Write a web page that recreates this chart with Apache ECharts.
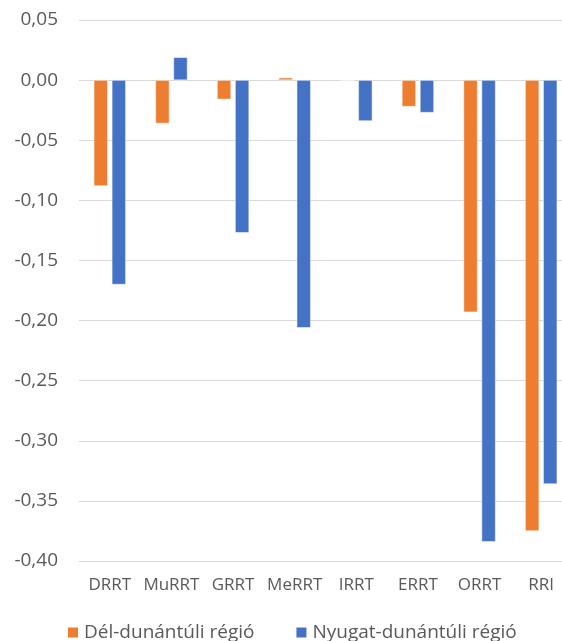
<!DOCTYPE html>
<html>
<head>
<meta charset="utf-8">
<script src="https://cdn.jsdelivr.net/npm/echarts@6/dist/echarts.min.js"></script>
<style>
  html, body { margin: 0; padding: 0; background: #fff; overflow: hidden; }
  #chart { width: 572px; height: 641px; }
</style>
</head>
<body>
<div id="chart"></div>
<script>
const categories = ['DRRT', 'MuRRT', 'GRRT', 'MeRRT', 'IRRT', 'ERRT', 'ORRT', 'RRI']
const delValues = [-0.088, -0.036, -0.016, 0.002, 0, -0.022, -0.193, -0.375]
const nyugatValues = [-0.170, 0.019, -0.127, -0.206, -0.034, -0.027, -0.384, -0.336]
const seriesNames = ['Dél-dunántúli régió', 'Nyugat-dunántúli régió']

const font = '"Open Sans", sans-serif'
const textColor = '#595959'

// the plot runs a little past the right edge of the picture, as in the source
const chart = echarts.init(document.getElementById('chart'))
chart.setOption({
  animation: false,
  color: ['#ED7D31', '#4472C4'],
  textStyle: { fontFamily: font },
  grid: { left: 79, right: 0, top: 20, bottom: 80 },
  legend: {
    data: seriesNames,
    left: 61,
    top: 618,
    itemWidth: 12,
    itemHeight: 12,
    itemGap: 40,
    icon: 'rect',
    textStyle: { color: textColor, fontSize: 19, fontFamily: font }
  },
  xAxis: {
    type: 'category',
    data: categories,
    axisLine: { show: false },
    axisTick: { show: false },
    axisLabel: { color: textColor, fontSize: 17, margin: 16, fontFamily: font, interval: 0 }
  },
  yAxis: {
    type: 'value',
    min: -0.40,
    max: 0.05,
    interval: 0.05,
    axisLine: { show: false },
    axisTick: { show: false },
    axisLabel: {
      color: textColor,
      fontSize: 19,
      margin: 21,
      fontFamily: font,
      formatter: (v) => v.toFixed(2).replace('.', ',')
    },
    splitLine: { lineStyle: { color: '#D9D9D9', width: 1 } }
  },
  series: [
    {
      name: seriesNames[0],
      type: 'bar',
      data: delValues,
      barWidth: 14,
      barGap: '29%',
      itemStyle: { borderColor: '#fff', borderWidth: 0.5 }
    },
    {
      name: seriesNames[1],
      type: 'bar',
      data: nyugatValues,
      barWidth: 14,
      barGap: '29%',
      itemStyle: { borderColor: '#fff', borderWidth: 0.5 }
    }
  ]
})
</script>
</body>
</html>
